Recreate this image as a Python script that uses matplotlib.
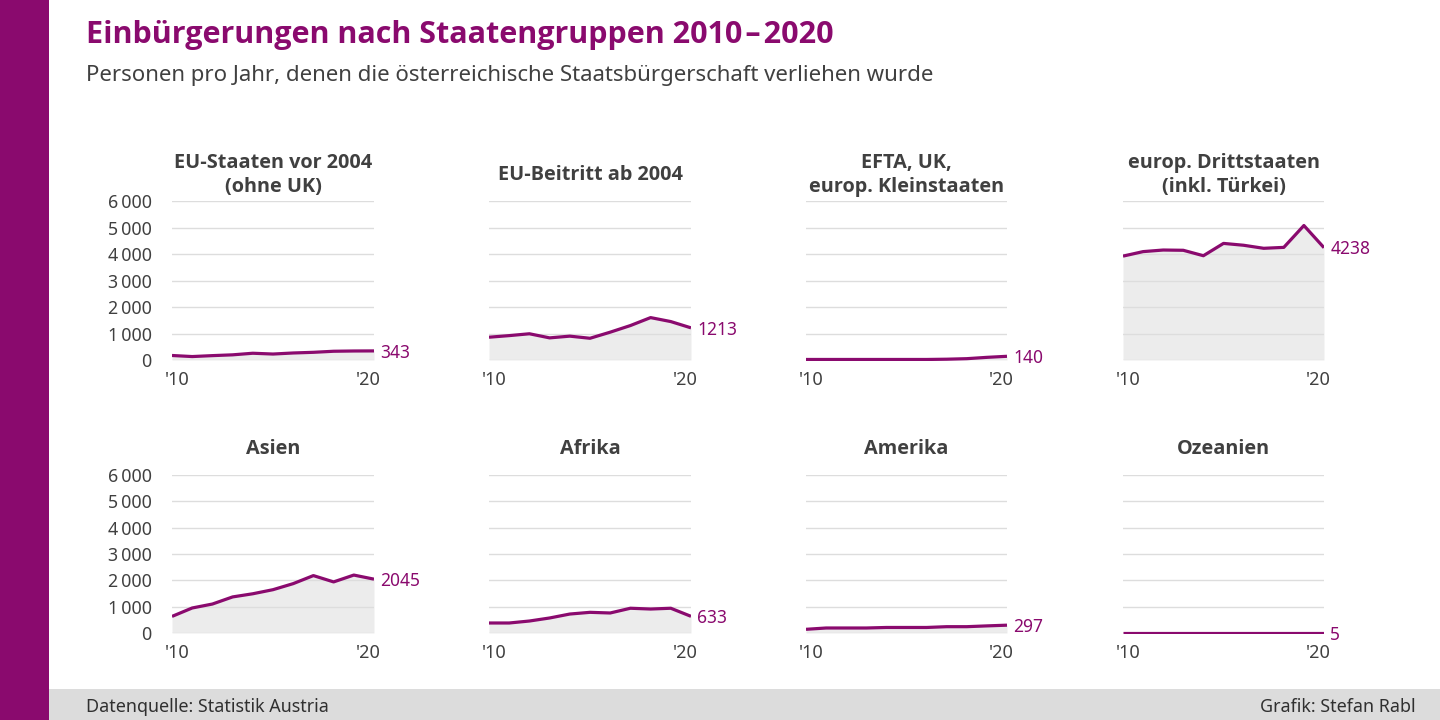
# Einbuergerungen nach Staatengruppen 2010-2020, small multiples
import matplotlib
matplotlib.use('Agg')
import matplotlib.pyplot as plt
from matplotlib.patches import Rectangle
from matplotlib.transforms import ScaledTranslation

plt.rcParams['font.family'] = ['Noto Sans', 'DejaVu Sans']
BOLD_FONT = ['Open Sans', 'Noto Sans', 'DejaVu Sans']

PURPLE = '#8a0a6e'
DARK   = '#404040'
GRID   = '#dddddd'
AREA   = '#ececec'

years = list(range(2010, 2021))
y_ticks = [0, 1000, 2000, 3000, 4000, 5000, 6000]
y_labels = ['0', '1\u2009000', '2\u2009000', '3\u2009000', '4\u2009000', '5\u2009000', '6\u2009000']
x_labels = ["'10", "'20"]

titles = [
    'EU-Staaten vor 2004\n(ohne UK)', 'EU-Beitritt ab 2004',
    'EFTA, UK,\neurop. Kleinstaaten', 'europ. Drittstaaten\n(inkl. Türkei)',
    'Asien', 'Afrika', 'Amerika', 'Ozeanien',
]

eu_alt     = [170, 130, 165, 195, 255, 225, 265, 290, 330, 340, 343]
eu_neu     = [860, 920, 990, 835, 900, 820, 1050, 1300, 1600, 1450, 1213]
efta       = [20, 20, 20, 20, 20, 20, 20, 30, 50, 100, 140]
drittstaat = [3920, 4090, 4150, 4140, 3935, 4400, 4330, 4215, 4250, 5075, 4238]
asien      = [630, 950, 1100, 1370, 1490, 1645, 1875, 2180, 1940, 2200, 2045]
afrika     = [380, 380, 455, 570, 720, 785, 760, 940, 910, 940, 633]
amerika    = [140, 190, 190, 190, 210, 210, 210, 240, 240, 270, 297]
ozeanien   = [5, 5, 5, 5, 5, 5, 5, 5, 5, 5, 5]
series = [eu_alt, eu_neu, efta, drittstaat, asien, afrika, amerika, ozeanien]

W, H = 1440, 720
fig = plt.figure(figsize=(W / 100, H / 100), dpi=100, facecolor='white')

def add_px_axes(x0, y0, x1, y1):
    return fig.add_axes([x0 / W, 1 - y1 / H, (x1 - x0) / W, (y1 - y0) / H])

# side band and footer
fig.add_artist(Rectangle((0, 0), 49 / W, 1, transform=fig.transFigure, color=PURPLE, lw=0))
fig.add_artist(Rectangle((49 / W, 0), 1 - 49 / W, 31 / H, transform=fig.transFigure,
                         color='#dcdcdc', lw=0))

fig.text(86 / W, 1 - 35 / H, 'Einbürgerungen nach Staatengruppen 2010\u200a\u2013\u200a2020',
         fontsize=22, fontweight='bold', family=BOLD_FONT, color=PURPLE, va='center')
fig.text(86 / W, 1 - 75 / H, 'Personen pro Jahr, denen die österreichische Staatsbürgerschaft verliehen wurde',
         fontsize=16, color=DARK, va='center')
fig.text(86 / W, 1 - 707 / H, 'Datenquelle: Statistik Austria', fontsize=12.9, color='#303030', va='center')
fig.text(1416 / W, 1 - 707 / H, 'Grafik: Stefan Rabl', fontsize=12.9, color='#303030',
         va='center', ha='right')

col_px = [(172, 374), (489, 691), (806, 1007), (1123, 1324)]
row_px = [(201, 360), (475, 633)]

for i, (title, vals) in enumerate(zip(titles, series)):
    row, col = divmod(i, 4)
    x0, x1 = col_px[col]
    y0, y1 = row_px[row]
    ax = add_px_axes(x0, y0, x1, y1)
    ax.set_xlim(2010, 2020)
    ax.set_ylim(0, 6000)
    for s in ax.spines.values():
        s.set_visible(False)
    ax.fill_between(years, vals, 0, color=AREA, lw=0, zorder=1)
    ax.set_yticks(y_ticks)
    ax.grid(axis='y', color=GRID, lw=1.0, zorder=2)
    ax.set_axisbelow(False)
    line, = ax.plot(years, vals, color=PURPLE, lw=2.3, solid_capstyle='butt', zorder=3)
    # lines on the baseline are cut just below zero, as in the original
    line.set_clip_path(Rectangle((2010, -40), 10, 6040, transform=ax.transData))
    ax.set_xticks([])
    if col == 0:
        ax.set_yticklabels(y_labels, fontsize=12.8, color=DARK, va='center')
        ax.tick_params(axis='y', length=0, pad=14.5)
        for lbl in ax.get_yticklabels():
            lbl.set_transform(lbl.get_transform() + ScaledTranslation(0, -1.5 / 72, fig.dpi_scale_trans))
    else:
        ax.tick_params(axis='y', length=0, labelleft=False)
    # decade labels sit a few pixels inside the axis ends
    for x, lbl, dx in zip((2010, 2020), x_labels, (4, -4)):
        ax.annotate(lbl, xy=(x, 0), xytext=(dx, -14.5), textcoords='offset points',
                    ha='center', va='center', fontsize=13, color=DARK, annotation_clip=False)
    ax.annotate(str(vals[-1]), xy=(2020, vals[-1]), xytext=(4.5, -1.2), textcoords='offset points',
                ha='left', va='center', fontsize=12.5, color=PURPLE, annotation_clip=False)
    title_y = (175 if row == 0 else 449)
    fig.text((x0 + x1) / 2 / W, 1 - title_y / H, title, ha='center', va='center',
             fontsize=14.3, fontweight='bold', family=BOLD_FONT, color=DARK, linespacing=1.25)

fig.savefig('out.png', dpi=100)
